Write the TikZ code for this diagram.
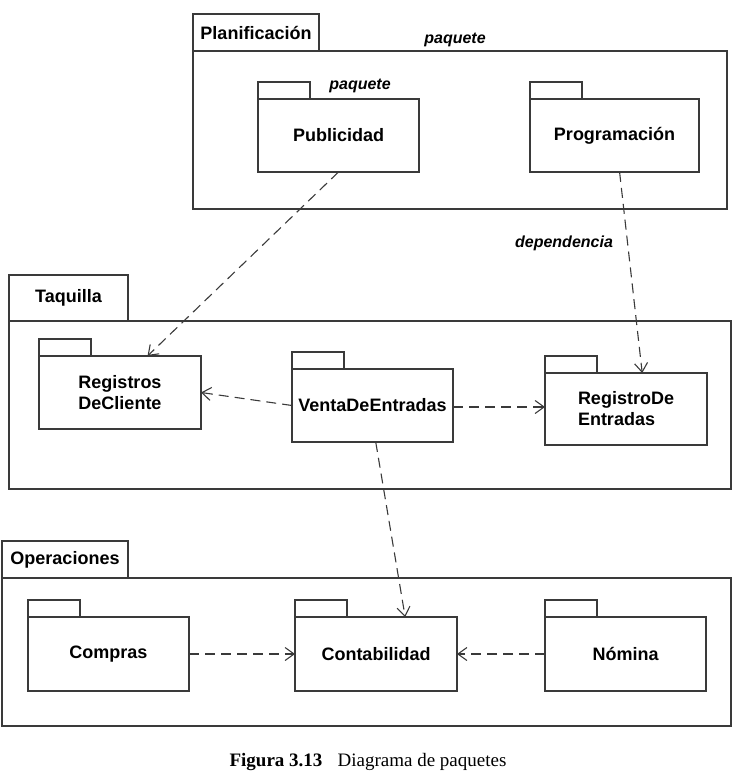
\documentclass[tikz,border=0pt]{standalone}
\usepackage{fontspec}
\newfontfamily\hv{Liberation Sans}
\newfontfamily\tm{Liberation Serif}
\usetikzlibrary{arrows.meta,calc}
\definecolor{ln}{HTML}{3A3A3A}
\tikzset{
  box/.style={draw=ln, line width=1.2pt, outer sep=0pt, inner sep=0pt, align=left,
    font=\hv\bfseries\fontsize{18}{21}\selectfont},
  tabbox/.style={draw=ln, line width=1.2pt, outer sep=0pt, inner sep=0pt, anchor=south west,
    minimum width=52pt, minimum height=17pt},
  bigtab/.style={draw=ln, line width=1.2pt, outer sep=0pt, inner sep=0pt, anchor=south west,
    font=\hv\bfseries\fontsize{18}{21}\selectfont},
  lbl/.style={font=\hv\bfseries\itshape\fontsize{16}{19}\selectfont, inner sep=0pt},
  dep/.style={draw=ln, line width=1.1pt, dash pattern=on 10pt off 6pt,
    -{Straight Barb[length=9pt,width=13pt]}}
}
\begin{document}
\begin{tikzpicture}[x=1pt,y=-1pt]
\useasboundingbox (0,0) rectangle (735,775);
% Planificacion
\node[box, minimum width=534pt, minimum height=158pt] (plan) at (460,130) {};
\node[bigtab, minimum width=126pt, minimum height=37pt] (plantab) at (plan.north west) {Planificación};
\node[lbl] (plq) at (455,40) {paquete};
\node[box, minimum width=161pt, minimum height=73pt] (pub) at (338.5,135.5) {Publicidad};
\node[tabbox] (pubtab) at (pub.north west) {};
\node[lbl] (pubq) at (360,86) {paquete};
\node[box, minimum width=169pt, minimum height=73pt] (prog) at (614.5,135.5) {Programación};
\node[tabbox] (progtab) at (prog.north west) {};
% Taquilla
\node[box, minimum width=722pt, minimum height=168pt] (taq) at (370,405) {};
\node[bigtab, minimum width=119pt, minimum height=46pt] (taqtab) at (taq.north west) {Taquilla};
\node[box, minimum width=162pt, minimum height=73pt] (reg) at (120,392.5) {Registros\\DeCliente};
\node[tabbox] (regtab) at (reg.north west) {};
\node[box, minimum width=161pt, minimum height=73pt] (venta) at (372.5,405.5) {VentaDeEntradas};
\node[tabbox] (ventatab) at (venta.north west) {};
\node[box, minimum width=162pt, minimum height=72pt] (regde) at (626,409) {RegistroDe\\Entradas};
\node[tabbox] (regdetab) at (regde.north west) {};
% Operaciones
\node[box, minimum width=729pt, minimum height=148pt] (ops) at (366.5,652) {};
\node[bigtab, minimum width=126pt, minimum height=37pt] (opstab) at (ops.north west) {Operaciones};
\node[box, minimum width=161pt, minimum height=74pt] (comp) at (108.5,654) {Compras};
\node[tabbox] (comptab) at (comp.north west) {};
\node[box, minimum width=162pt, minimum height=74pt] (cont) at (376,654) {Contabilidad};
\node[tabbox] (conttab) at (cont.north west) {};
\node[box, minimum width=161pt, minimum height=74pt] (nom) at (625.5,654) {Nómina};
\node[tabbox] (nomtab) at (nom.north west) {};
% dependencies
\coordinate (ve) at ($(venta.east)+(0,1.5)$);
\draw[dep] (pub.south) -- ($(reg.north west)!0.67!(reg.north east)$);
\draw[dep] ($(prog.south west)!0.53!(prog.south east)$) -- ($(regde.north west)!0.6!(regde.north east)$);
\node[lbl] (depl) at (564,243) {dependencia};
\draw[dep] (venta.west) -- (reg.east);
\draw[dep] (ve) -- (ve -| regde.west);
\draw[dep] ($(venta.south west)!0.52!(venta.south east)$) -- ($(cont.north west)!0.68!(cont.north east)$);
\draw[dep] (comp.east) -- (cont.west);
\draw[dep] (nom.west) -- (cont.east);
% caption
\node[font=\tm\fontsize{19}{22}\selectfont, inner sep=0pt] (cap) at (368,762) {\textbf{Figura 3.13}\hspace{0.8em}Diagrama de paquetes};
\end{tikzpicture}
\end{document}
